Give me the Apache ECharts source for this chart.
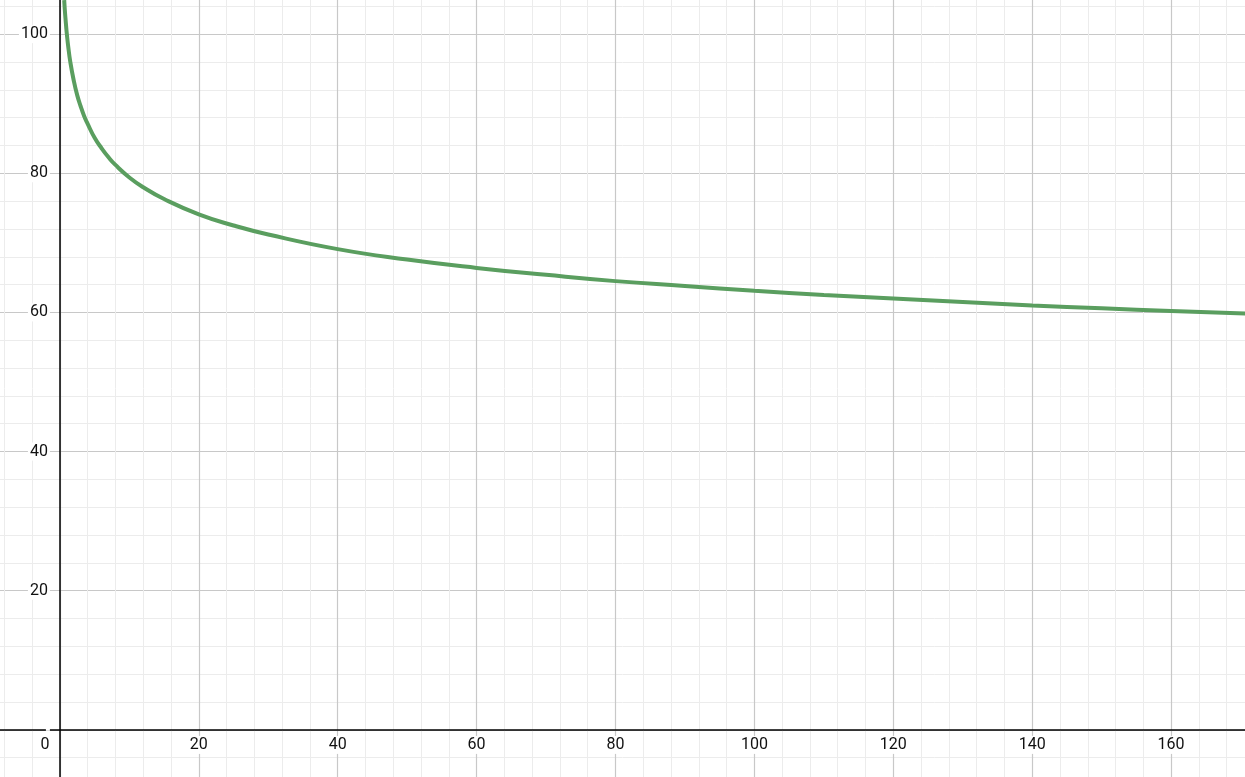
<!DOCTYPE html>
<html>
<head>
<meta charset="utf-8">
<script src="https://cdn.jsdelivr.net/npm/echarts@6/dist/echarts.min.js"></script>
<style>
  html, body { margin: 0; padding: 0; background: #fff; }
  #chart { width: 1245px; height: 777px; }
</style>
</head>
<body>
<div id="chart"></div>
<script>
// points
var curveX = [0.62, 0.7, 0.8, 0.9, 1, 1.2, 1.5, 2, 2.5, 3, 3.5, 4, 5, 6, 7, 8, 10, 12, 15, 20, 25, 30, 40, 50, 60, 70, 80, 90, 100, 110, 120, 130, 140, 150, 160, 175];
var curveY = [104.9, 103.6, 102.3, 101.1, 100, 98.2, 96.0, 93.3, 91.2, 89.6, 88.2, 87.1, 85.1, 83.6, 82.3, 81.2, 79.4, 78.0, 76.3, 74.1, 72.5, 71.2, 69.1, 67.6, 66.4, 65.4, 64.5, 63.8, 63.1, 62.5, 62.0, 61.5, 61.0, 60.6, 60.2, 59.7];

var xRange = [-20, 180];
var yRange = [-20, 120];

var points = [];
for (var i = 0; i < curveX.length; i++) {
  points.push([curveX[i], curveY[i]]);
}

var myChart = echarts.init(document.getElementById("chart"));

var txt = { fontFamily: "Roboto", fontSize: 16, color: "#111" };
var boxed = Object.assign({ backgroundColor: "#fff", padding: [1, 2] }, txt);

var option = {
  animation: false,
  grid: {
    left: -79, right: -65, top: -105, bottom: -92,
    containLabel: false,
    outerBoundsMode: "none"
  },
  xAxis: {
    type: "value",
    min: xRange[0],
    max: xRange[1],
    interval: 20,
    offset: -139.1,
    axisLine: { onZero: false, lineStyle: { color: "#000", width: 1.5 } },
    axisTick: { show: false },
    axisLabel: {
      margin: 6,
      showMinLabel: false,
      showMaxLabel: false,
      formatter: function (v) {
        if (v === 0) return "{o|0}";
        if (v < 0) return "";
        return "{t|" + v + "}";
      },
      rich: {
        o: Object.assign({ padding: [1, 30, 1, 0] }, txt),
        t: boxed
      }
    },
    splitLine: { show: true, lineStyle: { color: "#c8c8c8", width: 1.2 } },
    minorTick: { show: false, splitNumber: 5 },
    minorSplitLine: { show: true, lineStyle: { color: "#ececec", width: 1 } },
    z: 3
  },
  yAxis: {
    type: "value",
    min: yRange[0],
    max: yRange[1],
    interval: 20,
    offset: -138.9,
    axisLine: { onZero: false, lineStyle: { color: "#000", width: 1.5 } },
    axisTick: { show: false },
    axisLabel: Object.assign({
      margin: 10,
      showMinLabel: false,
      showMaxLabel: false,
      formatter: function (v) {
        if (v <= 0) return "";
        return v;
      }
    }, boxed),
    splitLine: { show: true, lineStyle: { color: "#c8c8c8", width: 1.2 } },
    minorTick: { show: false, splitNumber: 5 },
    minorSplitLine: { show: true, lineStyle: { color: "#ececec", width: 1 } },
    z: 3
  },
  series: [
    {
      type: "line",
      data: points,
      smooth: 0.5,
      showSymbol: false,
      lineStyle: { color: "#5a9e5f", width: 4 },
      z: 4
    }
  ]
};

myChart.setOption(option);
</script>
</body>
</html>
